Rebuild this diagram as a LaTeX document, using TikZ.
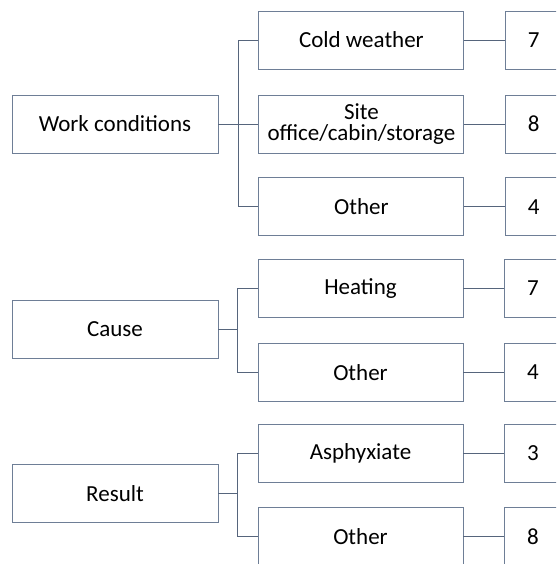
\documentclass[tikz,border=0pt]{standalone}
\usepackage{fontspec}
\setmainfont{Carlito}
\usetikzlibrary{positioning}
\definecolor{borde}{HTML}{6E7E96}
\definecolor{enlace}{HTML}{56657C}

\begin{document}
\begin{tikzpicture}[x=1pt, y=1pt, font=\fontsize{23}{21.5}\selectfont,
      cat/.style={draw=borde, line width=0.9pt, minimum width=206pt, minimum height=58pt,
                  inner sep=2pt, align=center},
      sub/.style={draw=borde, line width=0.9pt, minimum width=205pt, minimum height=58pt,
                  inner sep=2pt, align=center},
      num/.style={draw=borde, line width=0.9pt, minimum width=56pt, minimum height=58pt,
                  inner sep=2pt},
      link/.style={draw=enlace, line width=0.9pt}]
    \useasboundingbox (0,0) rectangle (556,-564);
    \clip (0,0) rectangle (556,-564);
    % work conditions
    \node[cat] (wc) at (115,-124) {Work conditions};
    \node[sub, right=40pt of wc] (site) {Site\\office/cabin/storage};
    \node[sub, above=25pt of site] (cold) {Cold weather};
    \node[sub, below=24pt of site] (oth1) {Other};
    \node[num, right=41pt of cold] (n1) {7};
    \node[num, right=41pt of site] (n2) {8};
    \node[num, right=41pt of oth1] (n3) {4};
    % cause
    \node[cat] (cause) at (115,-329.5) {Cause};
    \node[sub] (heat) at (360.5,-288.5) {Heating};
    \node[sub, below=25pt of heat] (oth2) {Other};
    \node[num, right=41pt of heat] (n4) {7};
    \node[num, right=41pt of oth2] (n5) {4};
    % result
    \node[cat] (res) at (115,-493.5) {Result};
    \node[sub] (asph) at (360.5,-453) {Asphyxiate};
    \node[sub, below=25pt of asph] (oth3) {Other};
    \node[num, right=41pt of asph] (n6) {3};
    \node[num, right=41pt of oth3] (n7) {8};

    \draw[link] (cold.west) -- ++(-20pt,0) |- (oth1.west);
    \draw[link] (wc.east) -- (site.west);
    \draw[link] (heat.west) -- ++(-20pt,0) |- (oth2.west);
    \draw[link] (cause.east) -- ++(20pt,0);
    \draw[link] (asph.west) -- ++(-20pt,0) |- (oth3.west);
    \draw[link] (res.east) -- ++(20pt,0);
    \foreach \a/\b in {cold/n1, site/n2, oth1/n3, heat/n4, oth2/n5, asph/n6, oth3/n7}
      \draw[link] (\a) -- (\b);
  \end{tikzpicture}
\end{document}
